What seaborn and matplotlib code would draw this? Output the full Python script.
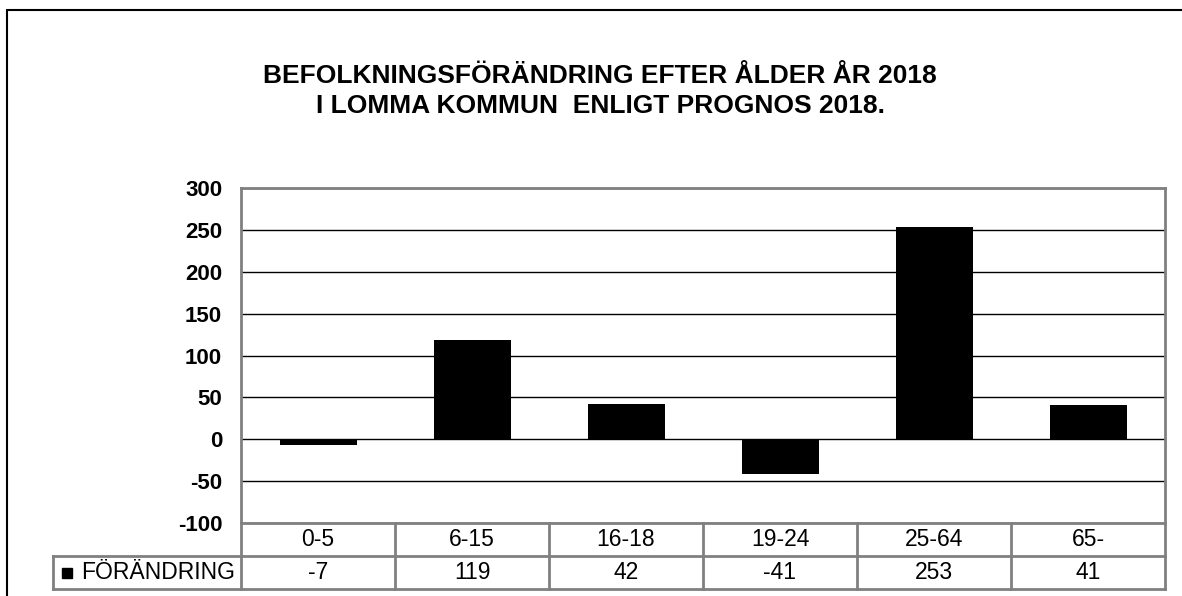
import matplotlib
matplotlib.use("Agg")
import matplotlib.pyplot as plt
import seaborn as sns
import pandas as pd
from matplotlib.lines import Line2D

# data
age_groups = ["0-5", "6-15", "16-18", "19-24", "25-64", "65-"]
change = [-7, 119, 42, -41, 253, 41]
series_name = "FÖRÄNDRING"
title_lines = ["BEFOLKNINGSFÖRÄNDRING EFTER ÅLDER ÅR 2018",
               "I LOMMA KOMMUN  ENLIGT PROGNOS 2018."]
yticks = [-100, -50, 0, 50, 100, 150, 200, 250, 300]

df = pd.DataFrame({"age": age_groups, "change": change})

sns.set_style("white")
plt.rcParams["font.family"] = ["Liberation Sans", "DejaVu Sans"]
plt.rcParams["text.color"] = "black"
plt.rcParams["ytick.color"] = "black"

W, H = 1182, 596
fig = plt.figure(figsize=(W / 100, H / 100), dpi=100)
fig.patch.set_facecolor("white")

def fx(px):
    return px / W

def fy(py):
    return 1 - py / H

# outer chart frame (only top and left visible)
fig.add_artist(Line2D([fx(7), fx(7)], [0, fy(10)], transform=fig.transFigure, color="black", lw=1.5))
fig.add_artist(Line2D([fx(7), 1], [fy(10), fy(10)], transform=fig.transFigure, color="black", lw=1.5))

# title, two centred lines
fig.text(fx(600), fy(91), "\n".join(title_lines), ha="center", va="center", fontsize=19,
         fontweight="bold", linespacing=1.3)

# main plot area
left, right, top, bottom = 241, 1165, 188, 523
ax = fig.add_axes([fx(left), fy(bottom), fx(right - left), (bottom - top) / H])
sns.barplot(data=df, x="age", y="change", color="black", width=0.5,
            saturation=1, linewidth=0, ax=ax, zorder=3)
ax.set_xlim(-0.5, len(age_groups) - 0.5)
ax.set_ylim(-100, 300)
ax.set_yticks(yticks)
ax.set_yticklabels([str(t) for t in yticks], fontsize=16, fontweight="bold")
ax.tick_params(axis="y", length=0, pad=13.5)
ax.set_xticks([])
ax.set_xlabel("")
ax.set_ylabel("")
ax.yaxis.grid(True, color="black", lw=1)
ax.set_axisbelow(True)
for s in ax.spines.values():
    s.set_color("#808080")
    s.set_linewidth(2)

# data table below the plot
tbl_bottom = 589
tax = fig.add_axes([fx(left), fy(tbl_bottom), fx(right - left), (tbl_bottom - bottom) / H])
tax.set_xlim(-0.5, len(age_groups) - 0.5)
tax.set_ylim(0, 2)
tax.axis("off")
grid_kw = dict(color="#808080", lw=2, clip_on=False, solid_capstyle="projecting")
col_w = (right - left) / len(age_groups)
head_left = -0.5 - (left - 53) / col_w
# horizontal lines
tax.plot([-0.5, len(age_groups) - 0.5], [1, 1], **grid_kw)
tax.plot([head_left, -0.5], [1, 1], **grid_kw)
tax.plot([head_left, len(age_groups) - 0.5], [0, 0], **grid_kw)
# vertical lines
for i in range(len(age_groups) + 1):
    tax.plot([i - 0.5, i - 0.5], [0, 2], **grid_kw)
tax.plot([head_left, head_left], [0, 1], **grid_kw)

for i, (g, v) in enumerate(zip(age_groups, change)):
    tax.text(i, 1.5, g, ha="center", va="center", fontsize=16.5)
    tax.text(i, 0.5, str(v), ha="center", va="center", fontsize=16.5)

# legend key inside the header cell
tax.plot([head_left + 14 / col_w], [0.5], marker="s", color="black", ms=7.5,
         ls="none", clip_on=False)
tax.text(head_left + 28 / col_w, 0.5, series_name, ha="left", va="center", fontsize=16.5)

fig.savefig("out.png", dpi=100, facecolor="white")
